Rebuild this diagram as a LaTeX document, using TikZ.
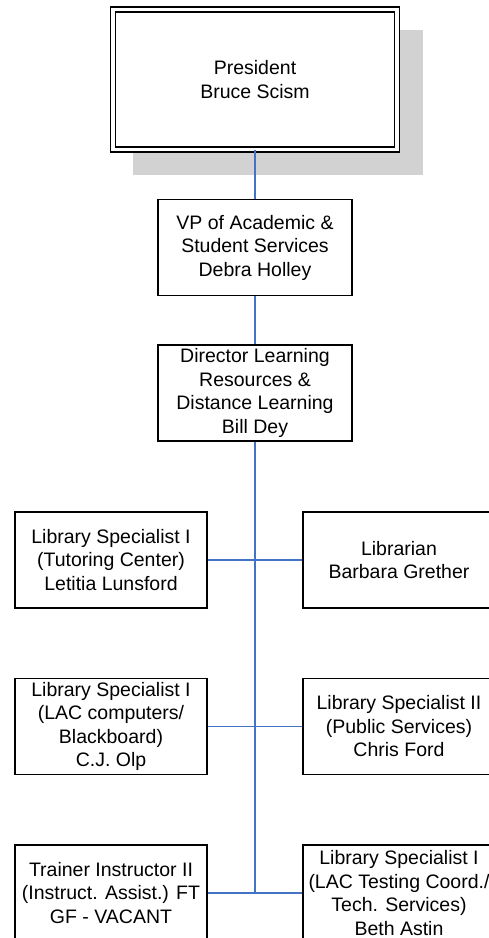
\documentclass[tikz,border=0pt]{standalone}
\usepackage{fontspec}
\setmainfont{Liberation Sans}
\definecolor{linkblue}{HTML}{4472C4}
\begin{document}
\begin{tikzpicture}[x=1pt,y=-1pt,
  unit/.style={draw, line width=1.8pt, fill=white, align=center, inner sep=0pt,
    minimum width=192pt, minimum height=96pt,
    font=\fontsize{19.5}{23.5}\selectfont},
  link/.style={draw=linkblue, line width=1.8pt}]
  \useasboundingbox (0,0) rectangle (489,938);

  \fill[gray!35] (133,30) rectangle (423,175);
  \node[unit, double, double distance=3.2pt, line width=1.6pt,
    minimum width=284pt, minimum height=140pt] (pres) at (255,79.5) {President\\Bruce Scism};

  \node[unit, minimum width=194pt] (vp) at (255,247.5) {VP of Academic \&\\Student Services\\Debra Holley};
  \node[unit, minimum width=194pt] (dir) at (255,393) {Director Learning\\Resources \&\\Distance Learning\\Bill Dey};

  \node[unit] (tutor) at (111,560) {Library Specialist I\\(Tutoring Center)\\Letitia Lunsford};
  \node[unit] (librarian) at (399,560) {Librarian\\Barbara Grether};
  \node[unit] (lac) at (111,726.5) {Library Specialist I\\(LAC computers/\\Blackboard)\\C.J. Olp};
  \node[unit] (public) at (399,726.5) {Library Specialist II\\(Public Services)\\Chris Ford};
  \node[unit] (trainer) at (111,893) {Trainer Instructor II\\(Instruct. Assist.) FT\\GF - VACANT};
  \node[unit] (testing) at (399,893) {Library Specialist I\\(LAC Testing Coord./\\Tech. Services)\\Beth Astin};
  \coordinate (spine) at (255,893);

  \draw[link] (pres) -- (vp);
  \draw[link] (vp) -- (dir);
  \draw[link] (dir) -- (spine);
  \draw[link] (tutor) -- (librarian);
  \draw[link] (lac) -- (public);
  \draw[link] (trainer) -- (testing);
\end{tikzpicture}
\end{document}
